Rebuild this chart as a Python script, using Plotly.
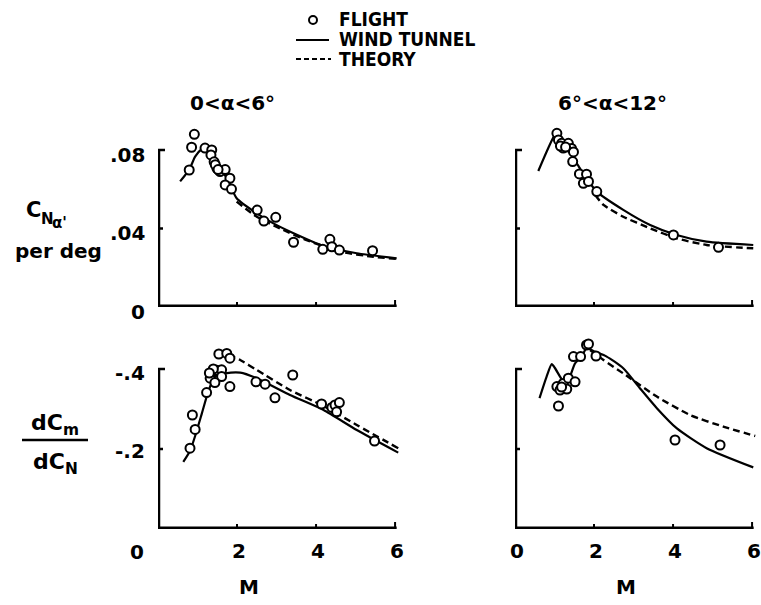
import plotly.graph_objects as go

W, H = 761, 605

# ---------------- data ----------------
# Top-left: C_N_alpha, 0<alpha<6
tl_flight_M = [0.79, 0.85, 0.92, 1.19, 1.36, 1.34, 1.42, 1.49, 1.57, 1.70, 1.82, 1.70, 1.86,
               1.45, 1.52, 2.51, 2.68, 2.98, 3.43, 4.17, 4.35, 4.40, 4.59, 5.43]
tl_flight_v = [0.0698, 0.0814, 0.0880, 0.0810, 0.0800, 0.0775, 0.0740, 0.0707, 0.0690, 0.0700,
               0.0656, 0.0622, 0.0601, 0.0725, 0.0700, 0.0494, 0.0438, 0.0457, 0.0330, 0.0294,
               0.0345, 0.0307, 0.0290, 0.0287]
tl_wt_M = [0.56, 0.79, 0.94, 1.11, 1.18, 1.32, 1.49, 1.74, 1.99, 2.50, 2.92, 3.43, 4.19, 5.03, 6.04]
tl_wt_v = [0.0640, 0.0700, 0.0766, 0.0805, 0.0810, 0.0795, 0.0720, 0.0660, 0.0554, 0.0477,
           0.0426, 0.0376, 0.0311, 0.0274, 0.0248]
tl_th_M = [1.99, 2.50, 3.09, 3.76, 4.61, 5.45, 6.04]
tl_th_v = [0.0537, 0.0460, 0.0400, 0.0341, 0.0282, 0.0256, 0.0245]

# Top-right: C_N_alpha, 6<alpha<12
tr_flight_M = [1.06, 1.10, 1.18, 1.22, 1.35, 1.43, 1.48, 1.46, 1.63, 1.81, 1.73, 1.86, 2.07, 4.01, 5.15,
               1.15, 1.28]
tr_flight_v = [0.0885, 0.0851, 0.0834, 0.0810, 0.0834, 0.0808, 0.0790, 0.0741, 0.0678, 0.0677,
               0.0630, 0.0640, 0.0588, 0.0367, 0.0304, 0.0820, 0.0815]
tr_wt_M = [0.59, 1.01, 1.06, 1.30, 1.60, 2.07, 2.74, 3.42, 4.09, 4.85, 6.03]
tr_wt_v = [0.0693, 0.0877, 0.0880, 0.0820, 0.0720, 0.0588, 0.0495, 0.0418, 0.0367, 0.0333, 0.0316]
tr_th_M = [2.03, 2.24, 2.74, 3.42, 4.09, 4.85, 6.03]
tr_th_v = [0.0571, 0.0520, 0.0460, 0.0401, 0.0350, 0.0316, 0.0299]

# Bottom-left: dCm/dCN, 0<alpha<6
bl_flight_M = [0.81, 0.87, 0.94, 1.23, 1.32, 1.36, 1.49, 1.61, 1.61, 1.44, 1.54, 1.74, 1.82, 1.82,
               2.48, 2.71, 2.96, 3.41, 4.14, 4.40, 4.48, 4.59, 4.52, 5.48, 1.40, 1.30]
bl_flight_v = [-0.202, -0.285, -0.249, -0.341, -0.377, -0.393, -0.397, -0.398, -0.381, -0.366,
               -0.4375, -0.439, -0.427, -0.356, -0.368, -0.362, -0.328, -0.385, -0.3125, -0.304,
               -0.310, -0.316, -0.293, -0.220, -0.400, -0.390]
bl_wt_M = [0.64, 0.81, 0.94, 1.11, 1.27, 1.44, 1.70, 2.08, 2.50, 3.34, 4.19, 5.03, 6.08]
bl_wt_v = [-0.168, -0.195, -0.2325, -0.289, -0.343, -0.381, -0.389, -0.391, -0.377, -0.335,
           -0.2975, -0.2475, -0.191]
bl_th_M = [1.78, 2.08, 2.50, 3.34, 4.19, 5.03, 6.08]
bl_th_v = [-0.435, -0.4225, -0.3975, -0.3475, -0.3075, -0.260, -0.202]

# Bottom-right: dCm/dCN, 6<alpha<12
br_flight_M = [1.10, 1.06, 1.14, 1.22, 1.35, 1.52, 1.31, 1.48, 1.66, 1.81, 1.86, 2.05, 4.05, 5.19, 1.18]
br_flight_v = [-0.3075, -0.356, -0.3475, -0.364, -0.377, -0.368, -0.350, -0.431, -0.431, -0.460,
               -0.4625, -0.4325, -0.2225, -0.210, -0.355]
br_wt_M = [0.62, 0.80, 0.93, 1.01, 1.14, 1.27, 1.39, 1.52, 1.69, 1.81, 2.03, 2.32, 2.74, 3.16,
           3.59, 4.09, 4.85, 6.03]
br_wt_v = [-0.327, -0.381, -0.412, -0.4025, -0.381, -0.364, -0.381, -0.414, -0.431, -0.452,
           -0.443, -0.431, -0.402, -0.352, -0.302, -0.252, -0.202, -0.154]
br_th_M = [1.90, 2.24, 2.74, 3.59, 4.43, 5.27, 6.08]
br_th_v = [-0.4475, -0.4225, -0.389, -0.331, -0.285, -0.256, -0.2325]

x_ticks = [0, 2, 4, 6]
top_ticks = [0, 0.04, 0.08]
top_labels = ["0", ".04", ".08"]
bot_ticks = [0, -0.2, -0.4]
bot_labels = ["0", "-.2", "-.4"]

legend_labels = ["FLIGHT", "WIND TUNNEL", "THEORY"]
titles = ["0<α<6°", "6°<α<12°"]

# ---------------- layout helpers ----------------
def px(x):
    return x / W

def py(y):
    return 1 - y / H

FONT = "DejaVu Sans"
INK = "black"

x_left = [px(158), px(401)]
x_right = [px(515), px(758)]
xr = [0, 6.15]
top_dom = [py(307), py(307 - 0.095 * 157 / 0.08)]
top_range = [0, 0.095]
bot_dom = [py(529), py(529 - 0.48 * 400)]
bot_range = [0, -0.48]

fig = go.Figure()

panels = [
    ("x", "y", tl_flight_M, tl_flight_v, tl_wt_M, tl_wt_v, tl_th_M, tl_th_v),
    ("x2", "y2", tr_flight_M, tr_flight_v, tr_wt_M, tr_wt_v, tr_th_M, tr_th_v),
    ("x3", "y3", bl_flight_M, bl_flight_v, bl_wt_M, bl_wt_v, bl_th_M, bl_th_v),
    ("x4", "y4", br_flight_M, br_flight_v, br_wt_M, br_wt_v, br_th_M, br_th_v),
]

for xa, ya, fM, fv, wM, wv, tM, tv in panels:
    fig.add_trace(go.Scatter(x=wM, y=wv, mode="lines", xaxis=xa, yaxis=ya,
                             line=dict(color=INK, width=2.2, shape="spline", smoothing=0.6),
                             showlegend=False, hoverinfo="skip"))
    fig.add_trace(go.Scatter(x=tM, y=tv, mode="lines", xaxis=xa, yaxis=ya,
                             line=dict(color=INK, width=2.4, dash="7px,4px", shape="spline", smoothing=0.6),
                             showlegend=False, hoverinfo="skip"))
    fig.add_trace(go.Scatter(x=fM, y=fv, mode="markers", xaxis=xa, yaxis=ya,
                             marker=dict(symbol="circle", size=9, color="white",
                                         line=dict(color=INK, width=2)),
                             showlegend=False, hoverinfo="skip"))

ax_common = dict(showgrid=False, zeroline=False, showline=False, showticklabels=False,
                 ticks="", fixedrange=True)
fig.update_layout(
    width=W, height=H, margin=dict(l=0, r=0, t=0, b=0),
    paper_bgcolor="white", plot_bgcolor="rgba(0,0,0,0)",
    xaxis=dict(domain=x_left, range=xr, anchor="y", **ax_common),
    yaxis=dict(domain=top_dom, range=top_range, anchor="x", **ax_common),
    xaxis2=dict(domain=x_right, range=xr, anchor="y2", **ax_common),
    yaxis2=dict(domain=top_dom, range=top_range, anchor="x2", **ax_common),
    xaxis3=dict(domain=x_left, range=xr, anchor="y3", **ax_common),
    yaxis3=dict(domain=bot_dom, range=bot_range, anchor="x3", **ax_common),
    xaxis4=dict(domain=x_right, range=xr, anchor="y4", **ax_common),
    yaxis4=dict(domain=bot_dom, range=bot_range, anchor="x4", **ax_common),
)

shapes = []
annotations = []
AXW = 4.5

def draw_axes(xa, ya, ytop, ymid):
    shapes.append(dict(type="line", xref=xa, yref=ya, x0=0, x1=0, y0=0, y1=ytop,
                       line=dict(color=INK, width=AXW)))
    shapes.append(dict(type="line", xref=xa, yref=ya, x0=0, x1=6.04, y0=0, y1=0,
                       line=dict(color=INK, width=AXW + 0.5)))
    for yv, ln in ((ytop, 7), (ymid, 5)):
        shapes.append(dict(type="line", xref=xa, yref=ya, xsizemode="pixel", xanchor=0,
                           x0=0, x1=ln, y0=yv, y1=yv, line=dict(color=INK, width=2.5)))
    for xv, ln in ((2, 5), (4, 5), (6, 7)):
        shapes.append(dict(type="line", xref=xa, yref=ya, ysizemode="pixel", yanchor=0,
                           x0=xv, x1=xv, y0=0, y1=ln, line=dict(color=INK, width=2)))

draw_axes("x", "y", top_ticks[2], top_ticks[1])
draw_axes("x2", "y2", top_ticks[2], top_ticks[1])
draw_axes("x3", "y3", bot_ticks[2], bot_ticks[1])
draw_axes("x4", "y4", bot_ticks[2], bot_ticks[1])

def txt(text, x, y, xref="paper", yref="paper", xanchor="center", yanchor="middle",
        xshift=0, yshift=0, size=20, family=FONT):
    annotations.append(dict(text=text, x=x, y=y, xref=xref, yref=yref, xanchor=xanchor,
                            yanchor=yanchor, xshift=xshift, yshift=yshift, showarrow=False,
                            font=dict(family=family, size=size, color=INK)))

# y tick labels (left panels only)
for v, lab, dy in zip(top_ticks, top_labels, (-5, -4, -5)):
    txt("<b>%s</b>" % lab, 0, v, "x", "y", xanchor="right", xshift=-11, yshift=dy)
for v, lab, dy in zip(bot_ticks[1:], bot_labels[1:], (-2, -4)):
    txt("<b>%s</b>" % lab, 0, v, "x3", "y3", xanchor="right", xshift=-11, yshift=dy)

# x tick labels (bottom panels)
for xa, ya in (("x3", "y3"), ("x4", "y4")):
    for v in x_ticks:
        if xa == "x3" and v == 0:
            txt("<b>0</b>", 0, 0, xa, ya, xshift=-21, yshift=-23)
        else:
            txt("<b>%d</b>" % v, v, 0, xa, ya, xshift=2, yshift=-22)
    txt("<b>M</b>", 2.3 if xa == "x3" else 2.8, 0, xa, ya, yshift=-58)

# panel titles
txt("<b>%s</b>" % titles[0], px(232), py(103))
txt("<b>%s</b>" % titles[1], px(612), py(103))

# y-axis titles
txt("<b>C</b>", px(24), py(210), xanchor="left", size=21)
txt("<b>N</b>", px(39), py(219), xanchor="left", size=15)
txt("<b>α'</b>", px(50), py(223), xanchor="left", size=15)
txt("<b>per deg</b>", px(58), py(251), size=20)

txt("<b>dC<sub>m</sub></b>", px(55), py(424), size=22)
shapes.append(dict(type="line", xref="paper", yref="paper", x0=px(22), x1=px(88),
                   y0=py(440), y1=py(440), line=dict(color=INK, width=2.5)))
txt("<b>dC<sub>N</sub></b>", px(55), py(463), size=22)

# legend
shapes.append(dict(type="circle", xref="paper", yref="paper", xsizemode="pixel", ysizemode="pixel",
                   xanchor=px(313), yanchor=py(20), x0=-4, x1=4, y0=-4, y1=4,
                   line=dict(color=INK, width=2)))
shapes.append(dict(type="line", xref="paper", yref="paper", x0=px(296), x1=px(329),
                   y0=py(40), y1=py(40), line=dict(color=INK, width=2.2)))
shapes.append(dict(type="line", xref="paper", yref="paper", x0=px(296), x1=px(331),
                   y0=py(59), y1=py(59), line=dict(color=INK, width=2.2, dash="5px,3px")))
for lab, yy in zip(legend_labels, (19, 39, 59)):
    txt("<b>%s</b>" % lab, px(337), py(yy), xanchor="left", size=19,
        family="DejaVu Sans Condensed, DejaVu Sans")

fig.update_layout(shapes=shapes, annotations=annotations)
fig.write_html("out.html", config={"displayModeBar": False},
               post_script="document.body.style.margin='0';document.body.style.overflow='hidden';")
